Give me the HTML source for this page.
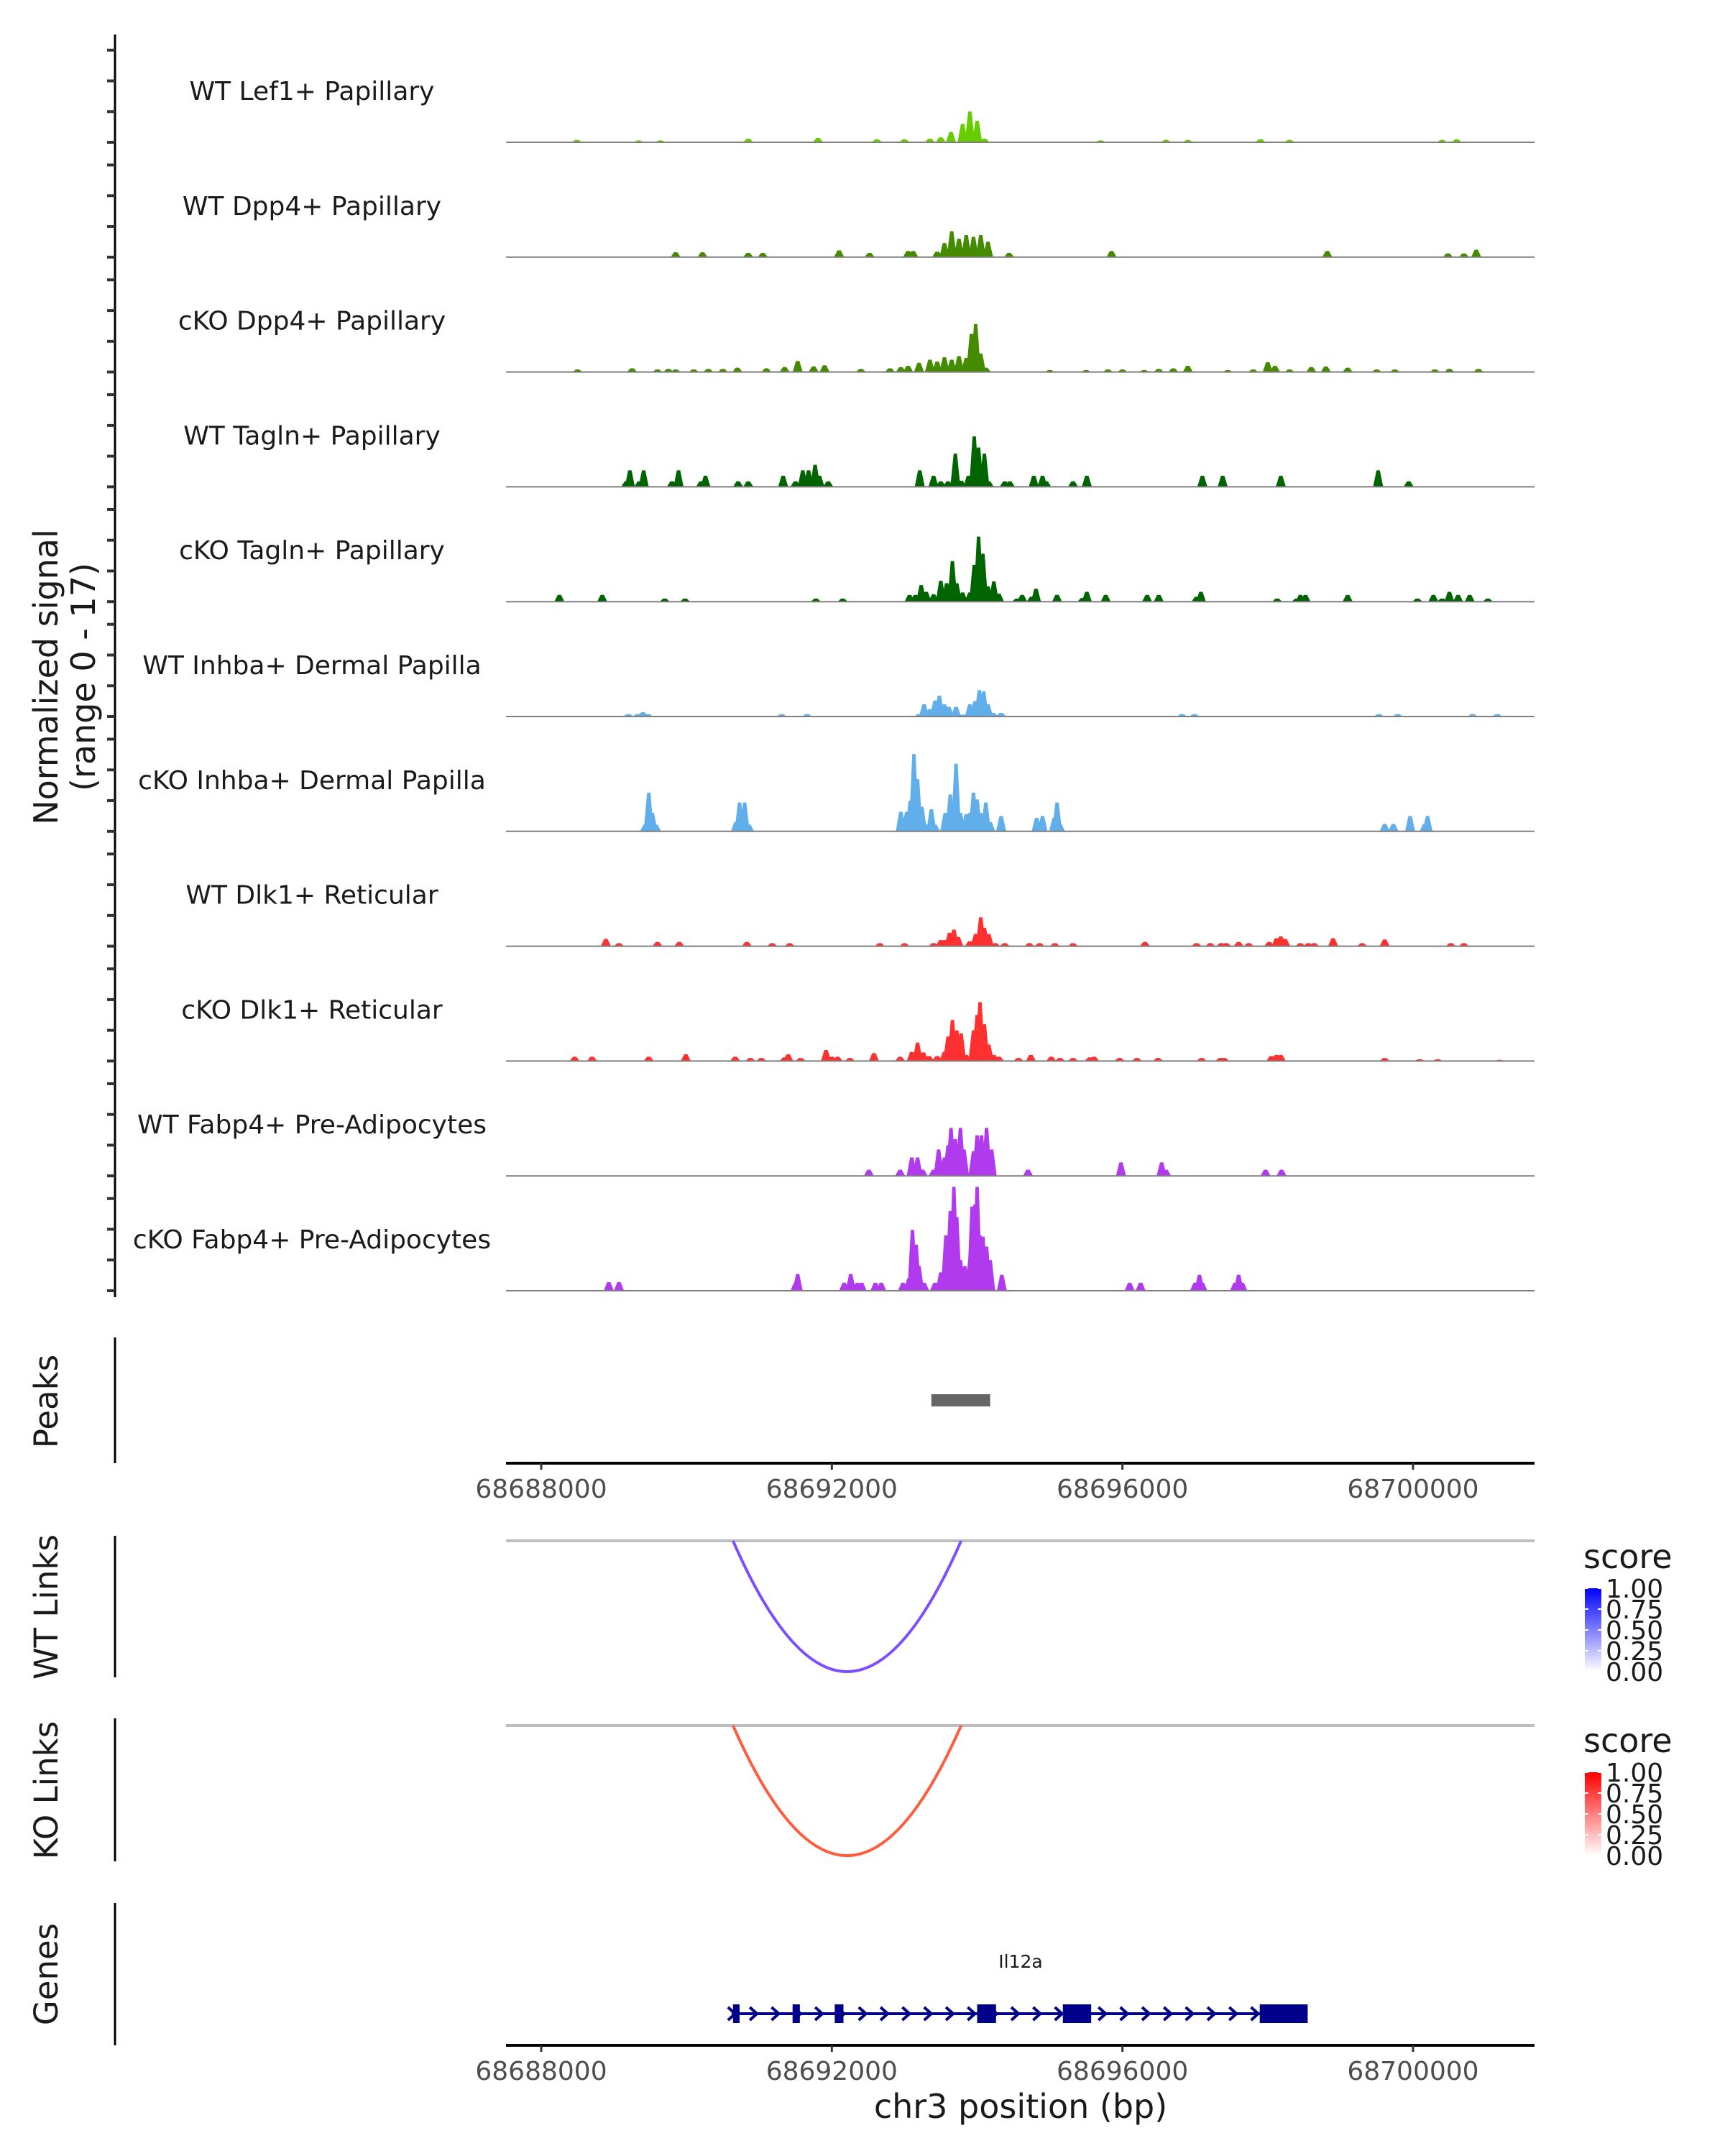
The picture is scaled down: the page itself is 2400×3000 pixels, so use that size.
<!DOCTYPE html>
<html><head><meta charset="utf-8"><style>
html,body{margin:0;padding:0;background:#fff}
svg{display:block;font-family:"DejaVu Sans","Liberation Sans",sans-serif}
</style></head><body>
<svg id="fig" width="2400" height="3000" viewBox="0 0 2400 3000" xmlns="http://www.w3.org/2000/svg">
<defs>
<linearGradient id="gradBlue" x1="0" y1="1" x2="0" y2="0"><stop offset="0" stop-color="#ffffff"/><stop offset="1" stop-color="#0000ff"/></linearGradient>
<linearGradient id="gradRed" x1="0" y1="1" x2="0" y2="0"><stop offset="0" stop-color="#ffffff"/><stop offset="1" stop-color="#ff0000"/></linearGradient>
</defs>
<g id="tracks"></g>
<g id="lower"></g>
</svg>
<script>
// ---- data (positions in kb relative to 68688000, signal values 0-17) ----
const trackNames = ["WT Lef1+ Papillary","WT Dpp4+ Papillary","cKO Dpp4+ Papillary","WT Tagln+ Papillary","cKO Tagln+ Papillary","WT Inhba+ Dermal Papilla","cKO Inhba+ Dermal Papilla","WT Dlk1+ Reticular","cKO Dlk1+ Reticular","WT Fabp4+ Pre-Adipocytes","cKO Fabp4+ Pre-Adipocytes"];
const trackColors = ["#66cd00","#458b00","#458b00","#006400","#006400","#60aeea","#60aeea","#ff3030","#ff3030","#b23aee","#b23aee"];
const wtLef1 = [[0.49,0.4],[1.34,0.3],[1.64,0.3],[2.85,0.6],[3.81,0.7],[4.62,0.5],[5.0,0.5],[5.35,0.6],[5.5,0.8],[5.64,1.7],[5.8,3.0],[5.9,5.0],[6.0,3.5],[6.1,0.6],[7.7,0.3],[8.6,0.4],[8.9,0.4],[9.9,0.5],[10.3,0.4],[12.4,0.4],[12.6,0.5]];
const wtDpp4 = [[1.85,0.8],[2.22,0.8],[2.85,0.7],[3.05,0.7],[4.1,1.1],[4.52,0.7],[5.05,1.0],[5.12,1.0],[5.45,0.9],[5.55,2.3],[5.65,4.2],[5.75,3.0],[5.85,3.6],[5.95,3.3],[6.05,3.6],[6.15,2.5],[6.44,0.7],[7.85,1.0],[10.82,1.0],[12.48,0.6],[12.7,0.6],[12.87,1.2]];
const ckoDpp4 = [[0.5,0.4],[1.25,0.6],[1.6,0.4],[1.75,0.5],[1.85,0.4],[2.1,0.4],[2.3,0.5],[2.5,0.5],[2.7,0.7],[3.1,0.6],[3.35,0.8],[3.53,1.8],[3.75,0.9],[3.9,1.1],[4.4,0.5],[4.8,0.6],[4.95,0.8],[5.05,1.0],[5.2,1.5],[5.35,2.0],[5.45,1.7],[5.55,2.4],[5.65,2.0],[5.75,2.6],[5.85,2.3],[5.92,6.2],[5.98,7.8],[6.05,3.0],[6.12,0.7],[7.0,0.3],[7.5,0.3],[7.8,0.4],[8.0,0.4],[8.3,0.3],[8.5,0.5],[8.7,0.6],[8.9,1.0],[9.45,0.3],[9.8,0.4],[10.0,1.6],[10.1,1.0],[10.3,0.4],[10.6,0.8],[10.8,0.9],[11.1,0.7],[11.5,0.4],[11.75,0.4],[12.3,0.4],[12.5,0.5],[12.9,0.5]];
const wtTagln = [[1.22,2.7],[1.17,0.9],[1.41,2.7],[1.35,0.9],[1.8,0.9],[1.89,2.7],[2.26,1.8],[2.2,0.9],[2.71,0.9],[2.85,0.9],[3.33,1.8],[3.5,0.9],[3.6,2.7],[3.68,2.7],[3.77,3.6],[3.83,1.8],[3.95,0.9],[5.21,2.7],[5.4,1.8],[5.5,0.9],[5.6,0.9],[5.7,5.4],[5.78,1.0],[5.88,1.8],[5.96,8.2],[6.02,6.4],[6.1,5.4],[6.16,0.9],[6.38,0.9],[6.45,0.9],[6.78,1.8],[6.9,1.8],[6.95,0.9],[7.32,0.9],[7.51,1.8],[9.1,1.8],[9.38,1.8],[10.18,1.8],[11.52,2.7],[11.94,0.9]];
const ckoTagln = [[0.25,1.1],[0.84,1.1],[1.7,0.5],[1.98,0.5],[3.78,0.5],[4.15,0.5],[5.07,1.1],[5.15,1.1],[5.23,2.7],[5.3,1.6],[5.4,1.2],[5.5,3.4],[5.58,3.0],[5.66,6.6],[5.72,3.0],[5.8,1.5],[5.9,1.5],[5.96,6.0],[6.02,10.6],[6.08,7.8],[6.15,2.5],[6.23,3.3],[6.3,1.3],[6.62,1.1],[6.55,0.5],[6.81,2.1],[6.75,0.8],[7.1,1.1],[7.45,0.6],[7.51,1.6],[7.77,1.1],[8.34,1.1],[8.5,1.1],[9.02,0.8],[9.08,1.6],[10.13,0.5],[10.4,0.5],[10.45,1.1],[10.52,1.1],[11.1,1.1],[12.06,0.5],[12.28,1.1],[12.4,0.5],[12.5,1.6],[12.62,1.1],[12.78,1.1],[13.03,0.5]];
const wtInhba = [[1.2,0.4],[1.33,0.4],[1.4,0.7],[1.47,0.4],[3.31,0.4],[3.66,0.4],[5.2,0.4],[5.27,2.0],[5.35,1.2],[5.42,2.6],[5.48,3.4],[5.55,2.0],[5.61,1.6],[5.71,1.6],[5.8,0.3],[5.9,2.0],[5.97,2.5],[6.03,4.3],[6.09,4.1],[6.15,2.0],[6.22,0.6],[6.33,0.6],[8.82,0.4],[8.99,0.4],[11.53,0.4],[11.79,0.4],[12.82,0.4],[13.16,0.4]];
const ckoInhba = [[1.43,1.1],[1.48,6.3],[1.53,3.0],[1.58,1.1],[2.68,1.5],[2.73,4.7],[2.8,4.7],[2.86,1.1],[4.95,3.2],[5.03,3.2],[5.08,5.0],[5.13,12.6],[5.18,8.5],[5.24,4.0],[5.3,1.1],[5.37,3.6],[5.42,1.1],[5.56,3.0],[5.63,6.0],[5.71,11.0],[5.77,3.0],[5.85,2.8],[5.9,3.0],[5.95,6.3],[6.0,5.2],[6.05,3.0],[6.12,4.7],[6.18,1.5],[6.33,2.5],[6.82,2.2],[6.9,2.5],[7.06,2.2],[7.1,4.7],[7.14,1.2],[11.61,1.2],[11.73,1.2],[11.96,2.5],[12.2,2.5],[12.16,1.2]];
const wtDlk1 = [[0.89,1.2],[1.07,0.5],[1.6,0.7],[1.9,0.7],[2.83,0.7],[3.18,0.5],[3.42,0.5],[4.66,0.5],[5.0,0.5],[5.4,0.5],[5.5,1.0],[5.56,1.0],[5.62,2.2],[5.68,2.7],[5.74,1.5],[5.9,0.8],[5.98,2.0],[6.05,4.7],[6.1,3.0],[6.16,2.0],[6.25,0.5],[6.38,0.5],[6.72,0.5],[6.86,0.5],[7.07,0.5],[7.32,0.5],[8.31,0.7],[9.02,0.5],[9.21,0.5],[9.36,0.5],[9.43,0.5],[9.6,0.7],[9.74,0.5],[10.02,0.7],[10.12,1.3],[10.18,1.6],[10.24,1.2],[10.45,0.5],[10.56,0.5],[10.64,0.5],[10.9,1.3],[11.3,0.5],[11.61,1.1],[12.52,0.5],[12.7,0.5]];
const ckoDlk1 = [[0.46,0.7],[0.7,0.7],[1.48,0.7],[1.99,1.1],[2.67,0.7],[2.88,0.5],[3.03,0.5],[3.35,0.6],[3.4,1.1],[3.57,0.5],[3.92,1.8],[4.0,0.7],[4.08,0.7],[4.25,0.5],[4.58,1.3],[4.94,0.7],[5.1,1.5],[5.18,3.0],[5.26,1.4],[5.34,0.8],[5.45,0.8],[5.55,1.5],[5.6,4.0],[5.66,6.7],[5.72,5.0],[5.78,4.5],[5.85,1.0],[5.95,5.0],[6.0,7.5],[6.04,9.6],[6.1,6.0],[6.16,2.7],[6.23,1.0],[6.3,0.7],[6.57,0.5],[6.74,1.0],[7.02,0.7],[7.14,0.5],[7.32,0.5],[7.55,0.6],[7.61,0.7],[7.96,0.5],[8.2,0.5],[8.49,0.5],[9.09,0.5],[9.35,0.5],[9.4,0.5],[10.05,0.8],[10.12,1.0],[10.18,1.0],[11.61,0.5],[12.09,0.3],[12.34,0.3],[13.19,0.2]];
const wtFabp4 = [[4.51,1.0],[4.94,1.0],[5.1,3.0],[5.18,3.0],[5.25,1.0],[5.4,1.0],[5.47,4.3],[5.55,3.0],[5.6,5.0],[5.64,7.8],[5.7,6.0],[5.77,7.8],[5.82,4.3],[5.95,4.0],[6.0,6.6],[6.06,6.6],[6.13,7.8],[6.2,4.3],[6.7,1.0],[7.98,2.2],[8.54,2.2],[8.6,1.0],[9.97,1.0],[10.19,1.0]];
const ckoFabp4 = [[0.93,1.4],[1.07,1.4],[3.53,2.7],[3.5,1.3],[4.17,1.3],[4.26,2.7],[4.35,1.3],[4.41,1.3],[4.6,1.3],[4.68,1.3],[4.98,1.3],[5.06,2.0],[5.11,9.9],[5.16,7.5],[5.2,4.0],[5.27,1.3],[5.42,1.3],[5.5,3.0],[5.57,9.0],[5.63,13.0],[5.68,16.9],[5.72,12.0],[5.77,5.0],[5.83,4.0],[5.9,5.0],[5.93,13.7],[5.97,14.0],[6.0,16.9],[6.04,9.0],[6.08,8.8],[6.13,7.2],[6.18,5.0],[6.34,2.6],[8.1,1.3],[8.25,1.3],[9.0,1.3],[9.06,2.6],[9.1,1.3],[9.55,1.3],[9.6,2.6],[9.65,1.3]];
const trackData = [wtLef1,wtDpp4,ckoDpp4,wtTagln,ckoTagln,wtInhba,ckoInhba,wtDlk1,ckoDlk1,wtFabp4,ckoFabp4];
const xTickKb = [0,4,8,12];
const xTickLabels = ["68688000","68692000","68696000","68700000"];
const peakRegions = [[5.37,6.18]];
const wtLinks = [[2.64,5.78,0.6]];
const koLinks = [[2.64,5.78,0.6]];
const geneSpan = [2.62,10.55];
const geneExons = [[2.64,2.73],[3.46,3.56],[4.04,4.16],[6.0,6.26],[7.18,7.57],[9.89,10.55]];
const legendTicks = ["1.00","0.75","0.50","0.25","0.00"];

// ---- scales ----
const X0 = 753, PXKB = 101.08, PLOT_L = 704, PLOT_R = 2135;
function xOf(kb){ return X0 + kb*PXKB; }
const YU = 8.55, BASE0 = 198, STEP = 159.8;
const NS = "http://www.w3.org/2000/svg";
function mk(tag, attrs, parent){ const e = document.createElementNS(NS, tag); for (const k in attrs) e.setAttribute(k, attrs[k]); parent.appendChild(e); return e; }

const tracks = document.getElementById('tracks');
const lower = document.getElementById('lower');

let ax = mk('line',{x1:160,y1:48,x2:160,y2:1805,stroke:'#000','stroke-width':3},tracks);


let yt = mk('text',{x:0,y:0,'font-size':46,'text-anchor':'middle',fill:'#1a1a1a',transform:'translate(80,942) rotate(-90)'},tracks);
yt.textContent = 'Normalized signal';


let yt2 = mk('text',{x:0,y:0,'font-size':46,'text-anchor':'middle',fill:'#1a1a1a',transform:'translate(132,942) rotate(-90)'},tracks);
yt2.textContent = '(range 0 - 17)';



trackData.forEach((data, i) => {
  const base = BASE0 + STEP*i;
  const g = mk('g',{},tracks);
  
  
  [0,5,10,15].forEach(v => {
    const t = mk('line',{x1:149,y1:base - v*YU,x2:160,y2:base - v*YU,stroke:'#333','stroke-width':4},g);
    
    
  });
  const lab = mk('text',{x:434,y:base-59,'font-size':36,'text-anchor':'middle',fill:'#1a1a1a'},g);
  lab.textContent = trackNames[i];
  
  
  data.forEach(([kb, v]) => {
    const cx = xOf(kb), h = v*YU, hw = 7;
    const p = mk('polygon',{points:`${cx-hw},${base} ${cx-hw/3},${base-h} ${cx+hw/3},${base-h} ${cx+hw},${base}`,fill:trackColors[i]},g);
    
    
  });
  const bl = mk('line',{x1:PLOT_L,y1:base,x2:PLOT_R,y2:base,stroke:'#7f7f7f','stroke-width':2},g);
  
  
});

function panelTitle(txt, cy, y1, y2, name){
  const t = mk('text',{x:0,y:0,'font-size':45,'text-anchor':'middle',fill:'#1a1a1a',transform:`translate(80,${cy}) rotate(-90)`},lower);
  t.textContent = txt;
  
  
  const l = mk('line',{x1:160,y1:y1,x2:160,y2:y2,stroke:'#000','stroke-width':3},lower);
  
  
}
function xAxis(y, name){
  const g = mk('g',{},lower);
  
  
  mk('line',{x1:PLOT_L,y1:y,x2:PLOT_R,y2:y,stroke:'#000','stroke-width':4},g);
  xTickKb.forEach((kb, j) => {
    mk('line',{x1:xOf(kb),y1:y,x2:xOf(kb),y2:y+9,stroke:'#333','stroke-width':3},g);
    const t = mk('text',{x:xOf(kb),y:y+48,'font-size':36,'text-anchor':'middle',fill:'#4d4d4d'},g);
    t.textContent = xTickLabels[j];
    
    
  });
}

panelTitle('Peaks',1950,1861,2036,'peaks');
peakRegions.forEach(([a,b]) => {
  const r = mk('rect',{x:xOf(a),y:1940,width:xOf(b)-xOf(a),height:17,fill:'#666666'},lower);
  
  
});
xAxis(2036,'peaks-x-axis');

function linksPanel(links, top, bottomY, color, grad, legendTop, title, titleCy, axY1, axY2, name){
  panelTitle(title, titleCy, axY1, axY2, name);
  const gl = mk('line',{x1:PLOT_L,y1:top,x2:PLOT_R,y2:top,stroke:'#bebebe','stroke-width':4},lower);
  
  
  links.forEach(([a,b]) => {
    const x1 = xOf(a), x2 = xOf(b), xm = (x1+x2)/2;
    const cy = 2*bottomY - top;
    const p = mk('path',{d:`M${x1},${top} Q${xm},${cy} ${x2},${top}`,fill:'none',stroke:color,'stroke-width':4},lower);
    
    
  });
  const st = mk('text',{x:2203,y:legendTop-28,'font-size':46,fill:'#1a1a1a'},lower);
  st.textContent = 'score';
  
  
  const bar = mk('rect',{x:2205,y:legendTop,width:23,height:116,fill:`url(#${grad})`},lower);
  
  
  legendTicks.forEach((lbl, k) => {
    const yy = legendTop + k*29;
    mk('line',{x1:2205,y1:yy,x2:2210,y2:yy,stroke:'#fff','stroke-width':2},lower);
    mk('line',{x1:2223,y1:yy,x2:2228,y2:yy,stroke:'#fff','stroke-width':2},lower);
    const t = mk('text',{x:2234,y:yy+13,'font-size':36,fill:'#1a1a1a'},lower);
    t.textContent = lbl;
    
    
  });
}
linksPanel(wtLinks, 2144, 2326, '#7d4dff', 'gradBlue', 2210, 'WT Links', 2236, 2137, 2334, 'wt-links');
linksPanel(koLinks, 2401, 2582, '#ff5b3d', 'gradRed', 2466, 'KO Links', 2491, 2391, 2590, 'ko-links');

panelTitle('Genes',2747,2648,2846,'genes');
const gy = 2802;
const gl = mk('line',{x1:xOf(geneSpan[0]),y1:gy,x2:xOf(geneSpan[1]),y2:gy,stroke:'#00008b','stroke-width':4},lower);


for (let kb = geneSpan[0]; kb < geneSpan[1]; kb += 0.3) {
  const x = xOf(kb);
  mk('path',{d:`M${x-5},${gy-9} L${x+5},${gy} L${x-5},${gy+9}`,fill:'none',stroke:'#00008b','stroke-width':4},lower);
}
geneExons.forEach(([a,b]) => {
  const r = mk('rect',{x:xOf(a),y:gy-13,width:xOf(b)-xOf(a),height:26,fill:'#00008b'},lower);
  
  
});
const gn = mk('text',{x:1420,y:2738,'font-size':25,'text-anchor':'middle',fill:'#1a1a1a'},lower);
gn.textContent = 'Il12a';


xAxis(2846,'genes-x-axis');
const xt = mk('text',{x:1420,y:2947,'font-size':46,'text-anchor':'middle',fill:'#1a1a1a'},lower);
xt.textContent = 'chr3 position (bp)';


</script>
</body></html>
